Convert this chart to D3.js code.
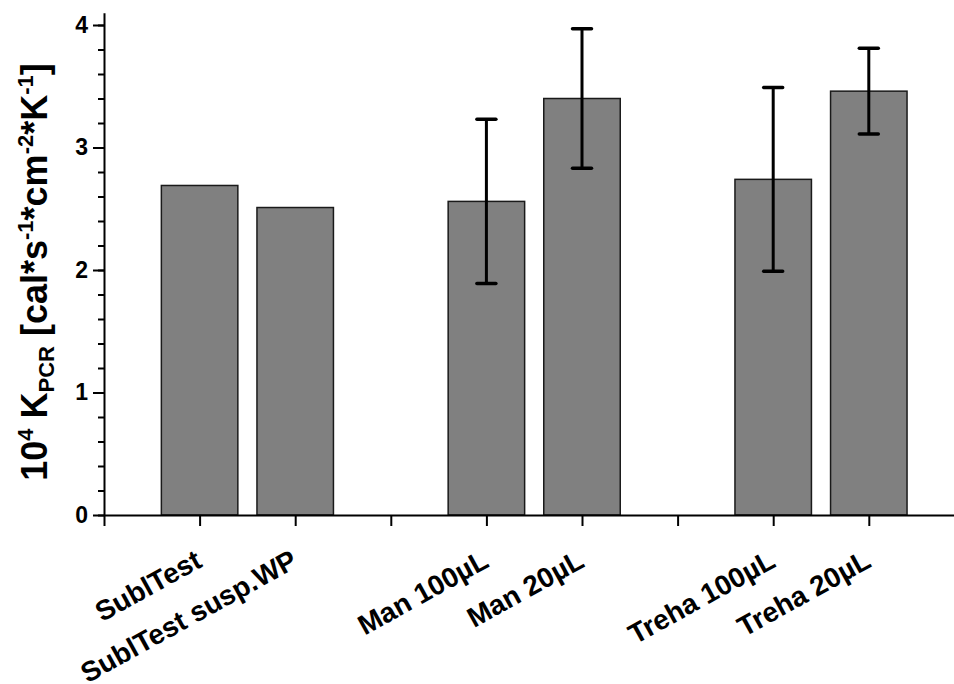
<!DOCTYPE html>
<html lang="en">
  <head>
    <meta charset="UTF-8" />
    <title>KPCR bar chart</title>
    <script src="https://cdnjs.cloudflare.com/ajax/libs/d3/7.8.5/d3.min.js"></script>
    <style>
      body { margin: 0; background: #fff; }
      text { font-family: "Liberation Sans", Arial, sans-serif; font-weight: bold; }
    </style>
  </head>
  <body>
    <figure id="chart" style="margin:0"></figure>

    <script>
      /** Data */
      const categories = ["SublTest", "SublTest susp.WP", "Man 100µL", "Man 20µL", "Treha 100µL", "Treha 20µL"];
      const positions = [1, 2, 4, 5, 7, 8];
      const values = [2.69, 2.51, 2.56, 3.40, 2.74, 3.46];
      const errors = [null, null, 0.67, 0.57, 0.75, 0.35];
      const yTicks = [0, 1, 2, 3, 4];

      /** Graph configs */
      const width = 954;
      const height = 684;
      const x0 = 104;
      const step = 95.6;
      const y0 = 515;
      const unit = 122.5;
      const barWidth = 0.8;
      const capHalf = 9.5;

      const xScale = d3.scaleLinear().domain([0, 9]).range([x0, x0 + 9 * step]);
      const yScale = d3.scaleLinear().domain([0, 4.1]).range([y0, y0 - 4.1 * unit]);

      const svg = d3
        .select("#chart")
        .append("svg")
        .attr("width", width)
        .attr("height", height);

      /** Bars */
      svg
        .selectAll("rect.bar")
        .data(values)
        .enter()
        .append("rect")
        .attr("class", "bar")
        .attr("x", (d, i) => xScale(positions[i] - barWidth / 2))
        .attr("y", (d) => yScale(d))
        .attr("width", xScale(barWidth) - xScale(0))
        .attr("height", (d) => yScale(0) - yScale(d))
        .attr("fill", "#808080")
        .attr("stroke", "#1a1a1a")
        .attr("stroke-width", 1.5);

      /** Error bars */
      const errData = values
        .map((v, i) => ({ pos: positions[i], v: v, e: errors[i] }))
        .filter((d) => d.e !== null);

      const eb = svg.selectAll("g.err").data(errData).enter().append("g").attr("class", "err");
      eb.append("line")
        .attr("x1", (d) => xScale(d.pos))
        .attr("x2", (d) => xScale(d.pos))
        .attr("y1", (d) => yScale(d.v - d.e))
        .attr("y2", (d) => yScale(d.v + d.e))
        .attr("stroke", "#000")
        .attr("stroke-width", 3);
      [-1, 1].forEach((s) => {
        eb.append("line")
          .attr("x1", (d) => xScale(d.pos) - capHalf)
          .attr("x2", (d) => xScale(d.pos) + capHalf)
          .attr("y1", (d) => yScale(d.v + s * d.e))
          .attr("y2", (d) => yScale(d.v + s * d.e))
          .attr("stroke", "#000")
          .attr("stroke-width", 3.5)
          .attr("stroke-linecap", "round");
      });

      /** X axis */
      const xAxis = d3
        .axisBottom(xScale)
        .tickValues(d3.range(0, 9))
        .tickSize(11)
        .tickSizeOuter(0)
        .tickFormat("");
      const gx = svg.append("g").attr("transform", `translate(0, ${y0})`).call(xAxis);
      gx.select(".domain").attr("stroke-width", 2);
      gx.selectAll(".tick line").attr("stroke-width", 2);

      /** Y axis: minor + major */
      const yMinor = d3
        .axisLeft(yScale)
        .tickValues(d3.range(0, 4.01, 0.2))
        .tickSize(6)
        .tickSizeOuter(0)
        .tickFormat("");
      const gyMinor = svg.append("g").attr("transform", `translate(${x0}, 0)`).call(yMinor);
      gyMinor.select(".domain").attr("stroke-width", 2);
      gyMinor.selectAll(".tick line").attr("stroke-width", 2);

      const yAxis = d3.axisLeft(yScale).tickValues(yTicks).tickSize(11).tickPadding(5).tickFormat(d3.format("d"));
      const gy = svg.append("g").attr("transform", `translate(${x0}, 0)`).call(yAxis);
      gy.select(".domain").remove();
      gy.selectAll(".tick line").attr("stroke-width", 2);
      gy.selectAll(".tick text")
        .attr("font-size", 23)
        .attr("font-family", "Liberation Sans, Arial, sans-serif")
        .attr("font-weight", "bold")
        .attr("fill", "#000");

      /** X labels */
      svg
        .selectAll("text.xlab")
        .data(categories)
        .enter()
        .append("text")
        .attr("class", "xlab")
        .attr("transform", (d, i) => `translate(${xScale(positions[i]) + 4}, 566) rotate(-29)`)
        .attr("text-anchor", "end")
        .attr("font-size", 28)
        .text((d) => d);

      /** Y title */
      const title = svg
        .append("text")
        .attr("transform", `translate(47, 272) rotate(-90)`)
        .attr("text-anchor", "middle")
        .attr("font-size", 36);
      const parts = [
        ["10", 0],
        ["4", 1],
        [" K", 0],
        ["PCR", -1],
        [" [cal*s", 0],
        ["-1", 1],
        ["*cm", 0],
        ["-2", 1],
        ["*K", 0],
        ["-1", 1],
        ["]", 0],
      ];
      let shift = 0;
      parts.forEach(([t, s]) => {
        const target = s === 1 ? -14 : s === -1 ? 7 : 0;
        title
          .append("tspan")
          .attr("dy", target - shift)
          .attr("font-size", s === 0 ? 36 : 22)
          .text(t);
        shift = target;
      });
    </script>
  </body>
</html>
